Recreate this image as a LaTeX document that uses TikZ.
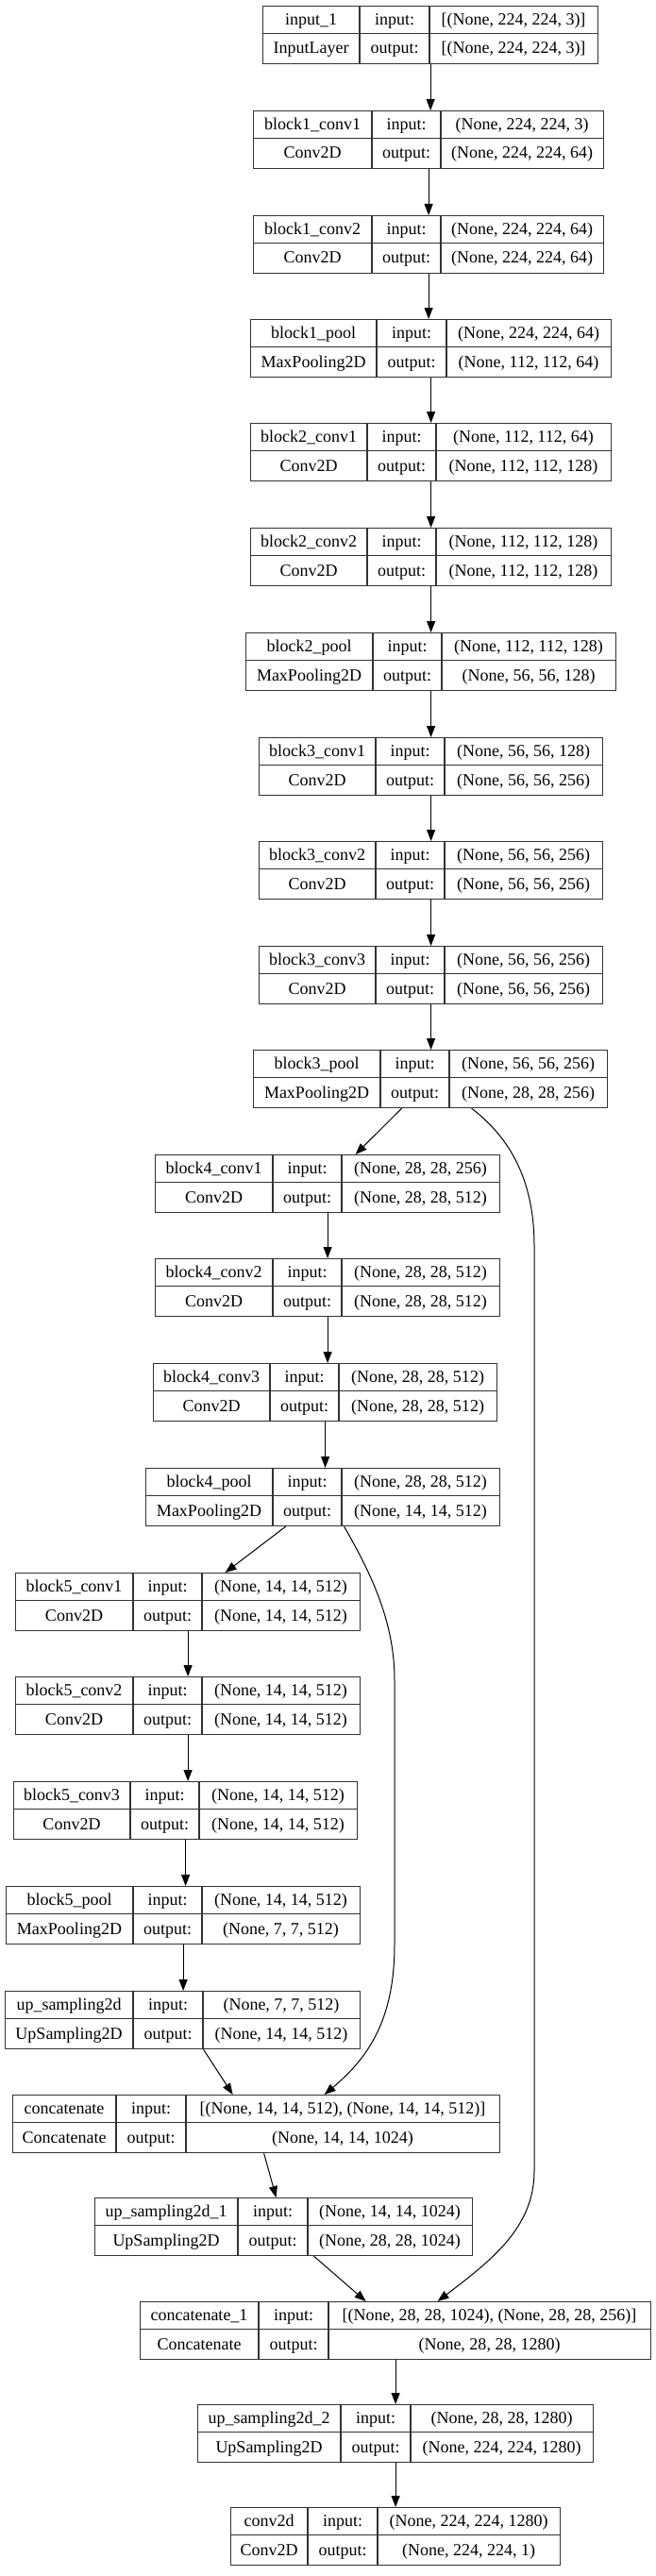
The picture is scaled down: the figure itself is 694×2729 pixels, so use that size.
\documentclass[tikz,border=0pt]{standalone}
\usepackage{fontspec}
\setmainfont{Liberation Serif}
\usepackage{tikz}
\usetikzlibrary{arrows.meta}
\tikzstyle{arrow} = [line width=1pt,-{Triangle[length=12pt,width=9pt]}]
\tikzstyle{layerbox} = [draw=black!80, line width=1.2pt, inner sep=0pt, minimum height=61pt]
\tikzstyle{cell} = [inner sep=0pt, anchor=base]

\begin{document}
\begin{tikzpicture}[x=1pt, y=-1pt, font=\fontsize{18}{22}\selectfont]
	\useasboundingbox (0,0) rectangle (694,2729);
	% name/left/divider1/divider2/right/top/layer/class/input/output
	\foreach \n/\xa/\xb/\xc/\xd/\y/\lname/\lclass/\lin/\lout in {
		input1/278/381/455/633/6/{input\_1}/InputLayer/{[(None, 224, 224, 3)]}/{[(None, 224, 224, 3)]},
		b1conv1/268/394/467/639/117/{block1\_conv1}/Conv2D/{(None, 224, 224, 3)}/{(None, 224, 224, 64)},
		b1conv2/268/394/467/639/228/{block1\_conv2}/Conv2D/{(None, 224, 224, 64)}/{(None, 224, 224, 64)},
		b1pool/265/399/473/647/338/{block1\_pool}/MaxPooling2D/{(None, 224, 224, 64)}/{(None, 112, 112, 64)},
		b2conv1/265/389/462/647/448/{block2\_conv1}/Conv2D/{(None, 112, 112, 64)}/{(None, 112, 112, 128)},
		b2conv2/265/389/462/647/559/{block2\_conv2}/Conv2D/{(None, 112, 112, 128)}/{(None, 112, 112, 128)},
		b2pool/260/395/468/652/670/{block2\_pool}/MaxPooling2D/{(None, 112, 112, 128)}/{(None, 56, 56, 128)},
		b3conv1/274/398/471/638/781/{block3\_conv1}/Conv2D/{(None, 56, 56, 128)}/{(None, 56, 56, 256)},
		b3conv2/274/398/471/638/891/{block3\_conv2}/Conv2D/{(None, 56, 56, 256)}/{(None, 56, 56, 256)},
		b3conv3/274/398/471/638/1002/{block3\_conv3}/Conv2D/{(None, 56, 56, 256)}/{(None, 56, 56, 256)},
		b3pool/268/403/476/643/1112/{block3\_pool}/MaxPooling2D/{(None, 56, 56, 256)}/{(None, 28, 28, 256)},
		b4conv1/164/289/362/529/1223/{block4\_conv1}/Conv2D/{(None, 28, 28, 256)}/{(None, 28, 28, 512)},
		b4conv2/164/289/362/529/1333/{block4\_conv2}/Conv2D/{(None, 28, 28, 512)}/{(None, 28, 28, 512)},
		b4conv3/162/286/359/526/1444/{block4\_conv3}/Conv2D/{(None, 28, 28, 512)}/{(None, 28, 28, 512)},
		b4pool/154/289/362/529/1555/{block4\_pool}/MaxPooling2D/{(None, 28, 28, 512)}/{(None, 14, 14, 512)},
		b5conv1/16/141/214/381/1666/{block5\_conv1}/Conv2D/{(None, 14, 14, 512)}/{(None, 14, 14, 512)},
		b5conv2/16/141/214/381/1776/{block5\_conv2}/Conv2D/{(None, 14, 14, 512)}/{(None, 14, 14, 512)},
		b5conv3/14/138/211/378/1887/{block5\_conv3}/Conv2D/{(None, 14, 14, 512)}/{(None, 14, 14, 512)},
		b5pool/6/141/214/381/1998/{block5\_pool}/MaxPooling2D/{(None, 14, 14, 512)}/{(None, 7, 7, 512)},
		upsamp/5/141/215/381/2109/{up\_sampling2d}/UpSampling2D/{(None, 7, 7, 512)}/{(None, 14, 14, 512)},
		concat/13/123/197/529/2219/concatenate/Concatenate/{[(None, 14, 14, 512), (None, 14, 14, 512)]}/{(None, 14, 14, 1024)},
		upsamp1/100/252/326/500/2328/{up\_sampling2d\_1}/UpSampling2D/{(None, 14, 14, 1024)}/{(None, 28, 28, 1024)},
		concat1/148/274/348/689/2438/{concatenate\_1}/Concatenate/{[(None, 28, 28, 1024), (None, 28, 28, 256)]}/{(None, 28, 28, 1280)},
		upsamp2/209/361/435/628/2547/{up\_sampling2d\_2}/UpSampling2D/{(None, 28, 28, 1280)}/{(None, 224, 224, 1280)},
		conv2d/244/326/400/593/2656/conv2d/Conv2D/{(None, 224, 224, 1280)}/{(None, 224, 224, 1)}}
	{
		\node[layerbox, minimum width={(\xd-\xa)*1pt}, anchor=north west] (\n) at (\xa,\y) {};
		\draw[black!80, line width=1.2pt] (\xa,\y+29.5) -- (\xd,\y+29.5);
		\draw[black!80, line width=1.2pt] (\xb,\y) -- ++(0,61);
		\draw[black!80, line width=1.2pt] (\xc,\y) -- ++(0,61);
		\node[cell] (\n-name) at ({(\xa+\xb)/2},\y+20.5) {\lname};
		\node[cell] (\n-class) at ({(\xa+\xb)/2},\y+51) {\lclass};
		\node[cell] (\n-inl) at ({(\xb+\xc)/2},\y+20.5) {input:};
		\node[cell] (\n-outl) at ({(\xb+\xc)/2},\y+51) {output:};
		\node[cell] (\n-in) at ({(\xc+\xd)/2},\y+20.5) {\lin};
		\node[cell] (\n-out) at ({(\xc+\xd)/2},\y+51) {\lout};
	}

	% straight edges
	\foreach \a/\b in {input1/b1conv1, b1conv1/b1conv2, b1conv2/b1pool, b1pool/b2conv1, b2conv1/b2conv2,
		b2conv2/b2pool, b2pool/b3conv1, b3conv1/b3conv2, b3conv2/b3conv3, b3conv3/b3pool,
		b4conv1/b4conv2, b4conv2/b4conv3, b4conv3/b4pool, b5conv1/b5conv2, b5conv2/b5conv3,
		b5conv3/b5pool, b5pool/upsamp, concat1/upsamp2, upsamp2/conv2d}
		\draw[arrow] (\a.south) -- (\a.south |- \b.north);

	% slanted edges
	\draw[arrow] ([xshift=-30.5pt]b3pool.south) -- ([xshift=29.5pt]b4conv1.north);
	\draw[arrow] ([xshift=-39.5pt]b4pool.south) -- ([xshift=39.5pt]b5conv1.north);
	\draw[arrow] ([xshift=22pt]upsamp.south) -- ([xshift=-25pt]concat.north);
	\draw[arrow] ([xshift=8pt]concat.south) -- ([xshift=-8pt]upsamp1.north);
	\draw[arrow] ([xshift=32pt]upsamp1.south) -- ([xshift=-31.5pt]concat1.north);

	% skip connections
	\draw[arrow] ([xshift=43.5pt]b3pool.south) .. controls (540,1205) and (566,1250) .. (566,1320)
		-- (566,2300) .. controls (566,2360) and (520,2395) .. ([xshift=44.5pt]concat1.north);
	\draw[arrow] ([xshift=22.5pt]b4pool.south) .. controls (395,1670) and (418,1720) .. (418,1780)
		-- (418,2060) .. controls (418,2140) and (390,2180) .. ([xshift=72pt]concat.north);
\end{tikzpicture}
\end{document}
